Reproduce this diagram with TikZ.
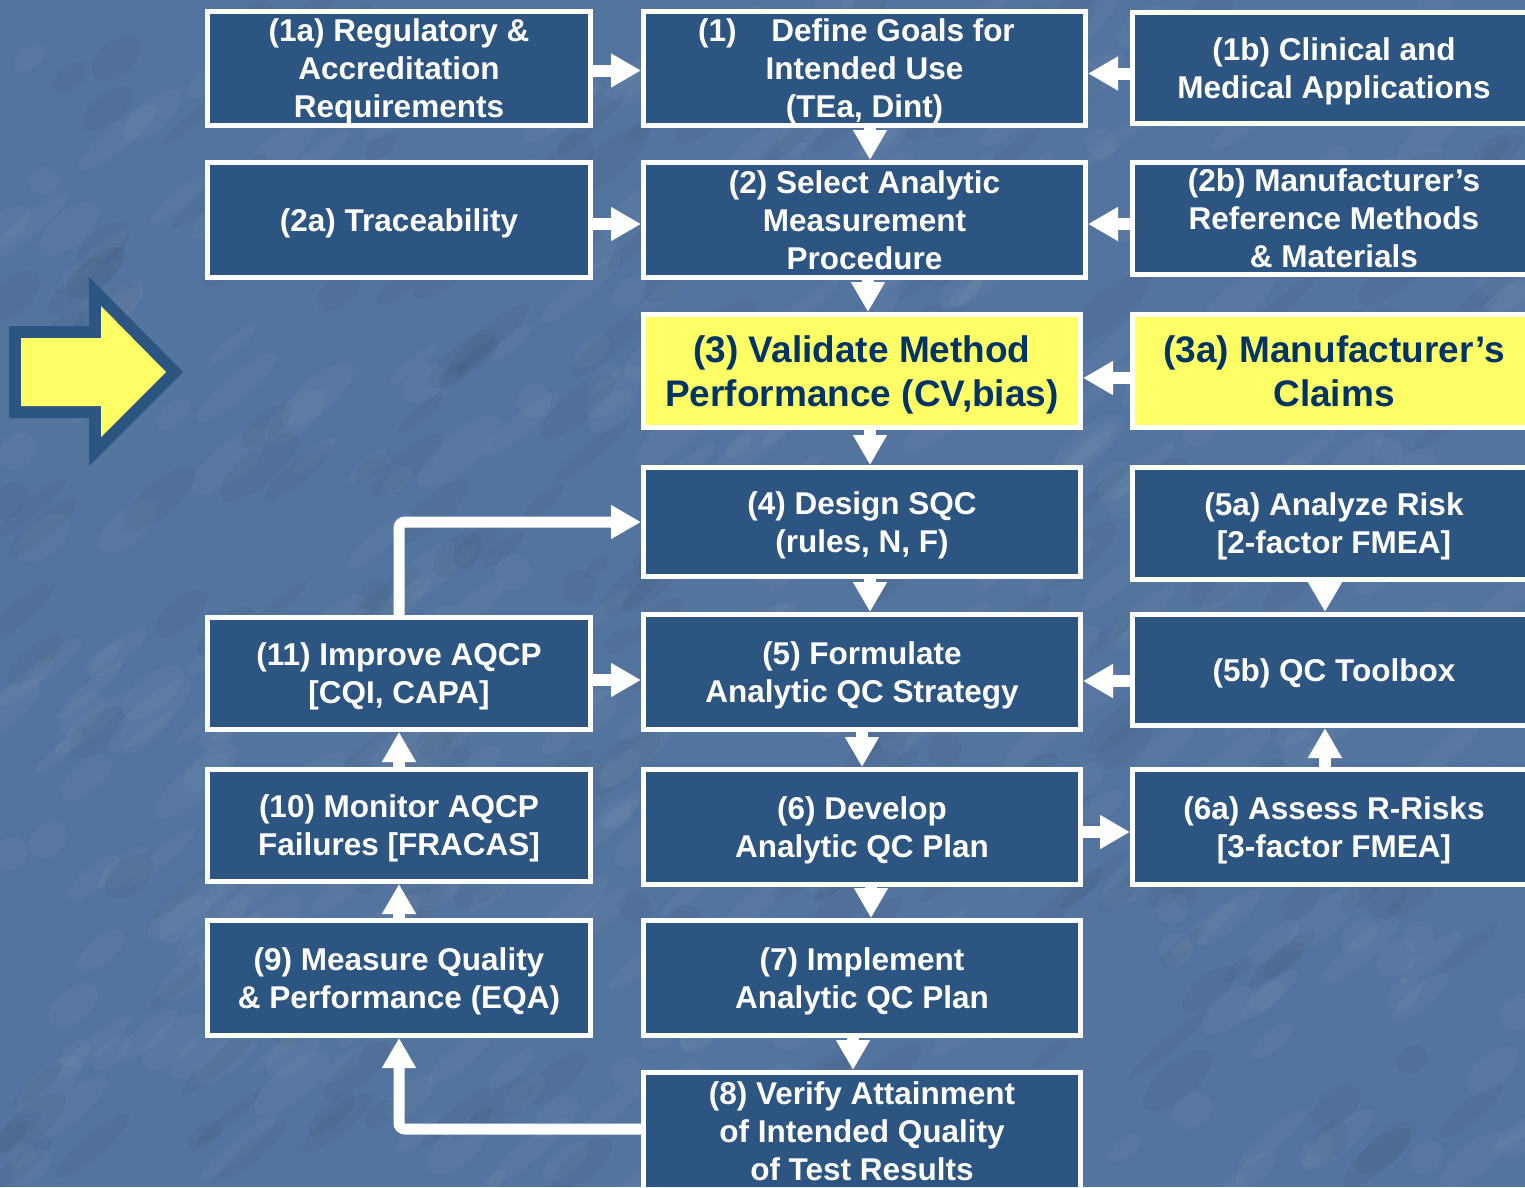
\documentclass[tikz,border=0pt]{standalone}
\usepackage{fontspec}
\setmainfont{Liberation Sans}
\usetikzlibrary{arrows.meta}

\definecolor{bgblue}{RGB}{83,116,158}
\definecolor{boxblue}{RGB}{44,85,130}
\definecolor{hiyellow}{RGB}{255,255,102}
\definecolor{navy}{RGB}{0,51,102}

\newcommand\boxfont{\fontsize{31.5}{38}\selectfont\bfseries}
\newcommand\keyfont{\fontsize{37}{44}\selectfont\bfseries}

\tikzset{
  box/.style={draw=white, line width=5pt, fill=boxblue, text=white,
    align=center, font=\boxfont, inner sep=0pt, outer sep=2.5pt,
    text depth=0pt},
  keybox/.style={box, fill=hiyellow, text=navy, font=\keyfont},
  flow/.style={draw=white, line width=12pt,
    -{Triangle[length=30pt,width=32pt]}},
  loopflow/.style={flow, line width=11pt, rounded corners=6pt},
}

\begin{document}
\begin{tikzpicture}[x=1pt, y=-1pt]
\useasboundingbox (0,0) rectangle (1525,1187);
\clip (0,0) rectangle (1525,1187);
\fill[bgblue] (0,0) rectangle (1525,1187);

% mottled paper texture
\pgfmathsetseed{7}
\foreach \i in {1,...,420}{
  \pgfmathsetmacro{\px}{rnd*1525}
  \pgfmathsetmacro{\py}{rnd*1187}
  \pgfmathsetmacro{\pl}{14+rnd*40}
  \pgfmathsetmacro{\pw}{6+rnd*12}
  \fill[white, opacity=0.03, rotate around={40:(\px,\py)}]
    (\px,\py) ellipse ({\pl pt} and {\pw pt});
}
\foreach \i in {1,...,260}{
  \pgfmathsetmacro{\px}{rnd*1525}
  \pgfmathsetmacro{\py}{rnd*1187}
  \pgfmathsetmacro{\pl}{14+rnd*40}
  \pgfmathsetmacro{\pw}{6+rnd*12}
  \fill[black, opacity=0.03, rotate around={40:(\px,\py)}]
    (\px,\py) ellipse ({\pl pt} and {\pw pt});
}

% pointer arrow on the left
\fill[boxblue] (9,326) -- (89,326) -- (89,277) -- (183,372) -- (89,466)
  -- (89,418) -- (9,418) -- cycle;
\fill[hiyellow] (21,338) -- (101,338) -- (101,306) -- (166,372) -- (101,437)
  -- (101,406) -- (21,406) -- cycle;

% left column
\node[box, minimum width=383pt, minimum height=114pt] (n1a) at (399,68.5)
  {(1a) Regulatory \&\\Accreditation\\Requirements};
\node[box, minimum width=383pt, minimum height=115pt] (n2a) at (399,220)
  {(2a) Traceability};
\node[box, minimum width=383pt, minimum height=112pt] (n11) at (399,673.5)
  {(11) Improve AQCP\\{[CQI, CAPA]}};
\node[box, minimum width=383pt, minimum height=112pt] (n10) at (399,825.5)
  {(10) Monitor AQCP\\Failures [FRACAS]};
\node[box, minimum width=383pt, minimum height=115pt] (n9) at (399,978)
  {(9) Measure Quality\\\& Performance (EQA)};

% middle column
\node[box, minimum width=442pt, minimum height=114pt] (n1) at (864.5,68.5)
  {(1)\hspace{26pt} Define Goals for\hspace*{16pt}\\Intended Use\\(TEa, Dint)};
\node[box, minimum width=442pt, minimum height=115pt] (n2) at (864.5,220)
  {(2) Select Analytic\\Measurement\\Procedure};
\node[keybox, minimum width=437pt, minimum height=113pt] (n3) at (862,371)
  {(3) Validate Method\\Performance (CV,bias)};
\node[box, minimum width=437pt, minimum height=109pt] (n4) at (862,522)
  {(4) Design SQC\\(rules, N, F)};
\node[box, minimum width=437pt, minimum height=115pt] (n5) at (862,672)
  {(5) Formulate\\Analytic QC Strategy};
\node[box, minimum width=437pt, minimum height=115pt] (n6) at (862,827)
  {(6) Develop\\Analytic QC Plan};
\node[box, minimum width=437pt, minimum height=115pt] (n7) at (862,978)
  {(7) Implement\\Analytic QC Plan};
\node[box, minimum width=437pt, minimum height=117pt] (n8) at (862,1131)
  {(8) Verify Attainment\\of Intended Quality\\of Test Results};

% right column
\node[box, minimum width=403pt, minimum height=111pt] (n1b) at (1334,68)
  {(1b) Clinical and\\Medical Applications};
\node[box, minimum width=403pt, minimum height=112pt] (n2b) at (1334,218.5)
  {(2b) Manufacturer’s\\Reference Methods\\\& Materials};
\node[keybox, minimum width=403pt, minimum height=113pt] (n3a) at (1334,371)
  {(3a) Manufacturer’s\\Claims};
\node[box, minimum width=403pt, minimum height=112pt] (n5a) at (1334,523.5)
  {(5a) Analyze Risk\\{[2-factor FMEA]}};
\node[box, minimum width=403pt, minimum height=111pt] (n5b) at (1334,670)
  {(5b) QC Toolbox};
\node[box, minimum width=403pt, minimum height=115pt] (n6a) at (1334,827)
  {(6a) Assess R-Risks\\{[3-factor FMEA]}};

% inputs into the main chain
\draw[flow] ([yshift=-2pt]n1a.east) -- ([yshift=-2pt]n1.west);
\draw[flow] ([yshift=-5.5pt]n1b.west) -- ([yshift=-5pt]n1.east);
\draw[flow] ([yshift=-4pt]n2a.east) -- ([yshift=-4pt]n2.west);
\draw[flow] ([yshift=-5.5pt]n2b.west) -- ([yshift=-4pt]n2.east);
\draw[flow] ([yshift=-7pt]n3a.west) -- ([yshift=-7pt]n3.east);
\draw[flow] ([yshift=-6.5pt]n11.east) -- ([yshift=-8pt]n5.west);
\draw[flow] ([yshift=-11pt]n5b.west) -- ([yshift=-9pt]n5.east);
\draw[flow] ([yshift=-5pt]n6.east) -- ([yshift=-5pt]n6a.west);

% main chain
\draw[flow] ([xshift=5.5pt]n1.south) -- ([xshift=5.5pt]n2.north);
\draw[flow] ([xshift=3.5pt]n2.south) -- ([xshift=6pt]n3.north);
\draw[flow] ([xshift=8pt]n3.south) -- ([xshift=8pt]n4.north);
\draw[flow] ([xshift=8pt]n4.south) -- ([xshift=8pt]n5.north);
\draw[flow] (n5.south) -- (n6.north);
\draw[flow] ([xshift=9pt]n6.south) -- ([xshift=9pt]n7.north);
\draw[flow] ([xshift=-9pt]n7.south) -- ([xshift=-9pt]n8.north);

% risk side
\draw[flow] ([xshift=-9pt]n5a.south) -- ([xshift=-9pt]n5b.north);
\draw[flow] ([xshift=-9pt]n6a.north) -- ([xshift=-9pt]n5b.south);

% improvement loop
\draw[loopflow] ([yshift=2pt]n8.west) -| (n9.south);
\draw[flow] (n9.north) -- (n10.south);
\draw[flow] (n10.north) -- (n11.south);
\draw[loopflow] (n11.north) |- (n4.west);
\end{tikzpicture}
\end{document}
